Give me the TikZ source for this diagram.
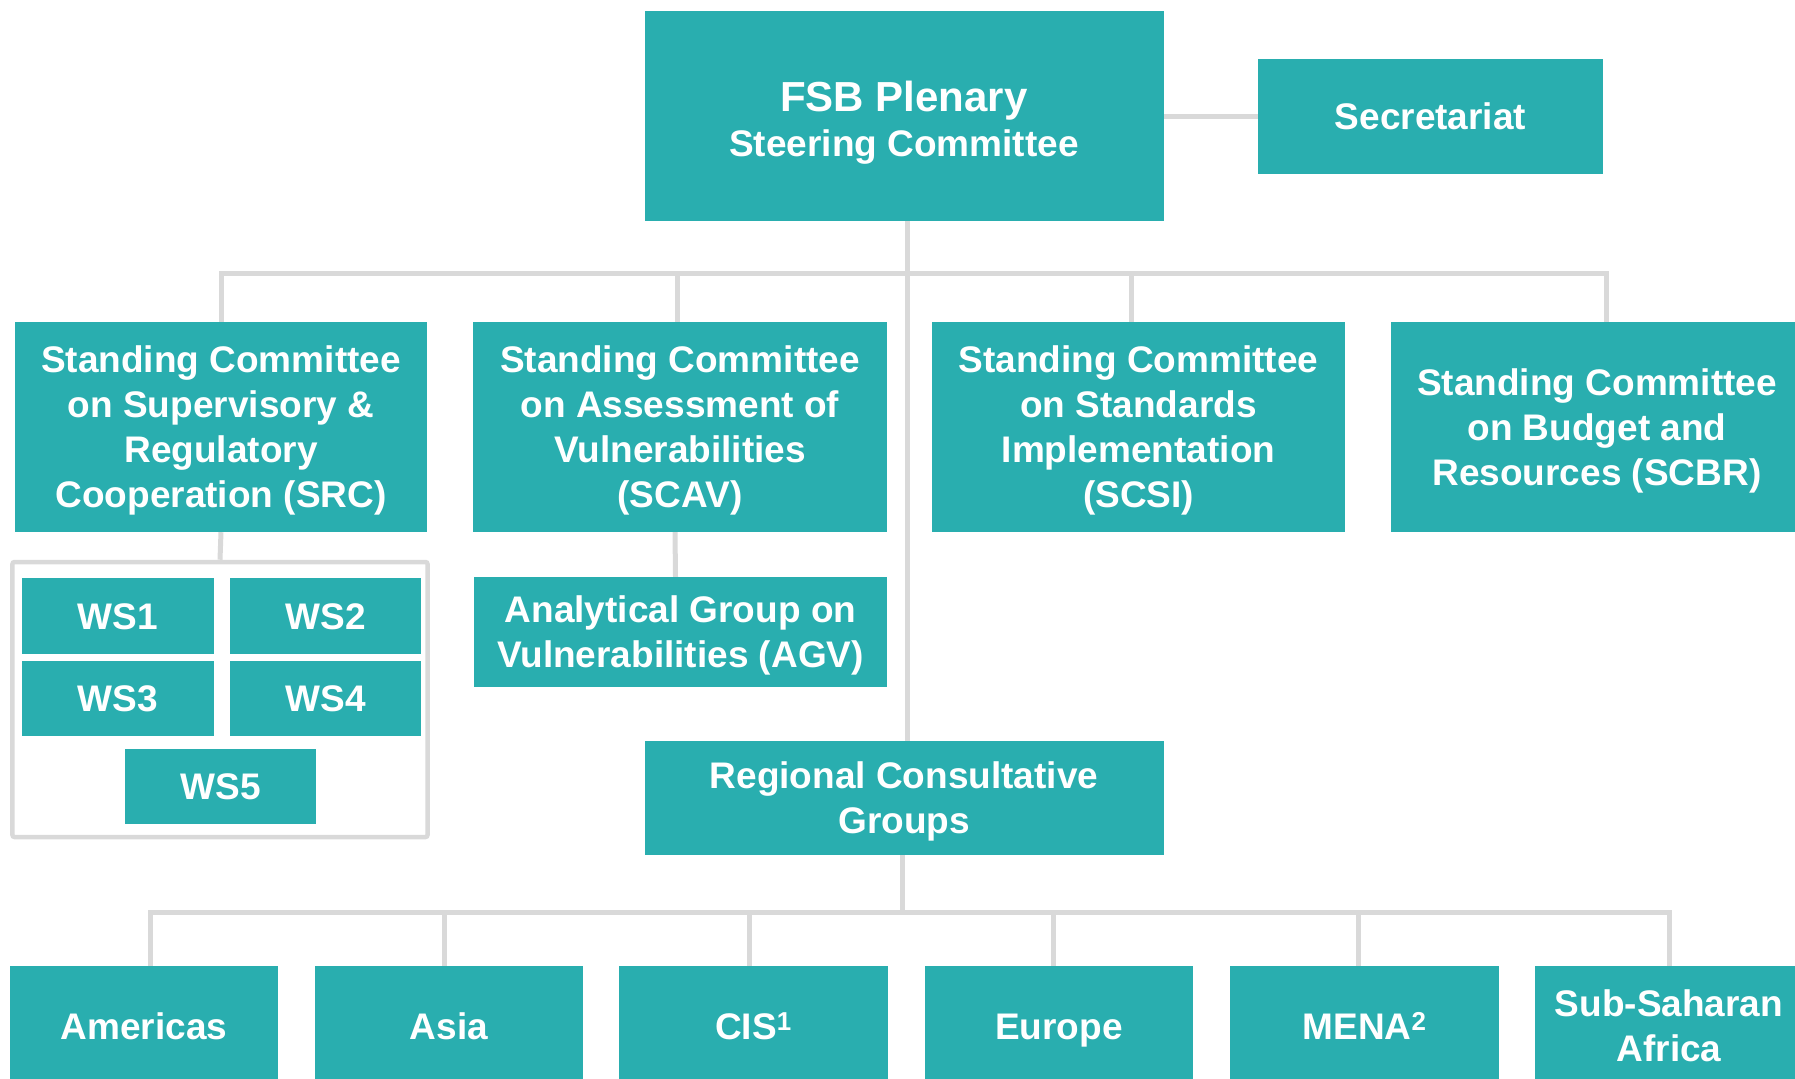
\documentclass[tikz,border=0pt]{standalone}
\usepackage{fontspec}
\setmainfont{Liberation Sans}
\usetikzlibrary{backgrounds}
\definecolor{teal1}{RGB}{41,174,175}
\definecolor{linegray}{RGB}{217,217,217}
\begin{document}
\begin{tikzpicture}[x=1bp,y=-1bp,
  box/.style={fill=teal1, text=white, inner sep=0pt, align=center,
    font=\fontsize{37bp}{45bp}\selectfont\bfseries, text depth=0pt},
  oneline/.style={text height=26.5bp},
  conn/.style={draw=linegray, line width=5bp},
  frame/.style={draw=linegray, line width=4.5bp, rounded corners=2bp, inner sep=0pt}]
\useasboundingbox (0,0) rectangle (1795,1078);
\clip (0,0) rectangle (1795,1078);

% top level
\node[box, minimum width=519bp, minimum height=210bp] (fsb) at (904,116)
  {{\fontsize{42bp}{46bp}\selectfont\rule{0pt}{35bp}FSB Plenary}\\Steering Committee};
\node[box, oneline, minimum width=345bp, minimum height=115bp] (sec) at (1430.5,116.5) {Secretariat};

% standing committees
\node[box, minimum width=412bp, minimum height=210bp] (src) at (221,427)
  {Standing Committee\\on Supervisory \&\\Regulatory\\Cooperation (SRC)};
\node[box, minimum width=414bp, minimum height=210bp] (scav) at (680,427)
  {Standing Committee\\on Assessment of\\Vulnerabilities\\(SCAV)};
\node[box, minimum width=413bp, minimum height=210bp] (scsi) at (1138.5,427)
  {Standing Committee\\on Standards\\Implementation\\(SCSI)};
\node[box, minimum width=412bp, minimum height=210bp] (scbr) at (1597,427)
  {Standing Committee\\on Budget and\\Resources (SCBR)};

% workstreams under SRC
\node[frame, minimum width=415bp, minimum height=275bp] (wsgroup) at (220,699.5) {};
\node[box, oneline, minimum width=192bp, minimum height=76bp] (ws1) at (118,616) {WS1};
\node[box, oneline, minimum width=191bp, minimum height=76bp] (ws2) at (325.5,616) {WS2};
\node[box, oneline, minimum width=192bp, minimum height=75bp] (ws3) at (118,698.5) {WS3};
\node[box, oneline, minimum width=191bp, minimum height=75bp] (ws4) at (325.5,698.5) {WS4};
\node[box, oneline, minimum width=191bp, minimum height=75bp] (ws5) at (220.5,786.5) {WS5};

% analytical group under SCAV
\node[box, minimum width=413bp, minimum height=110bp] (agv) at (680.5,632)
  {Analytical Group on\\Vulnerabilities (AGV)};

% regional groups
\node[box, minimum width=519bp, minimum height=114bp] (rcg) at (904,798)
  {Regional Consultative\\Groups};
\node[box, oneline, minimum width=268bp, minimum height=120bp] (am) at (144,1026) {Americas};
\node[box, oneline, minimum width=268bp, minimum height=120bp] (as) at (449,1026) {Asia};
\node[box, oneline, minimum width=269bp, minimum height=120bp] (cis) at (753.5,1026) {CIS\textsuperscript{1}};
\node[box, oneline, minimum width=268bp, minimum height=120bp] (eu) at (1059,1026) {Europe};
\node[box, oneline, minimum width=269bp, minimum height=120bp] (mena) at (1364.5,1026) {MENA\textsuperscript{2}};
\node[box, minimum width=268bp, minimum height=120bp] (ssa) at (1669,1026) {Sub-Saharan\\Africa};

\coordinate (bar) at (906,273);
\coordinate (rbar) at (902,912);

\begin{scope}[on background layer]
  \draw[conn] (fsb.east) -- (sec.west -| fsb.east) -- (sec.west);
  \draw[conn] ([xshift=3bp]fsb.south) -- ([xshift=3bp]rcg.north);
  \draw[conn] (src.north) -- (src.north |- bar) -- ([xshift=9bp]scbr.north |- bar) -- ([xshift=9bp]scbr.north);
  \draw[conn] ([xshift=-3bp]scav.north) -- ([xshift=-3bp]scav.north |- bar);
  \draw[conn] ([xshift=-7bp]scsi.north) -- ([xshift=-7bp]scsi.north |- bar);
  \draw[conn] (src.south) -- (wsgroup.north);
  \draw[conn] ([xshift=-5bp]scav.south) -- ([xshift=-5bp]agv.north);
  \draw[conn] (rcg.south -| rbar) -- (rbar);
  \draw[conn] ([xshift=6bp]am.north) -- ([xshift=6bp]am.north |- rbar) -- (ssa.north |- rbar) -- (ssa.north);
  \draw[conn] ([xshift=-5bp]as.north) -- ([xshift=-5bp]as.north |- rbar);
  \draw[conn] ([xshift=-4bp]cis.north) -- ([xshift=-4bp]cis.north |- rbar);
  \draw[conn] ([xshift=-6bp]eu.north) -- ([xshift=-6bp]eu.north |- rbar);
  \draw[conn] ([xshift=-6bp]mena.north) -- ([xshift=-6bp]mena.north |- rbar);
\end{scope}
\end{tikzpicture}
\end{document}
